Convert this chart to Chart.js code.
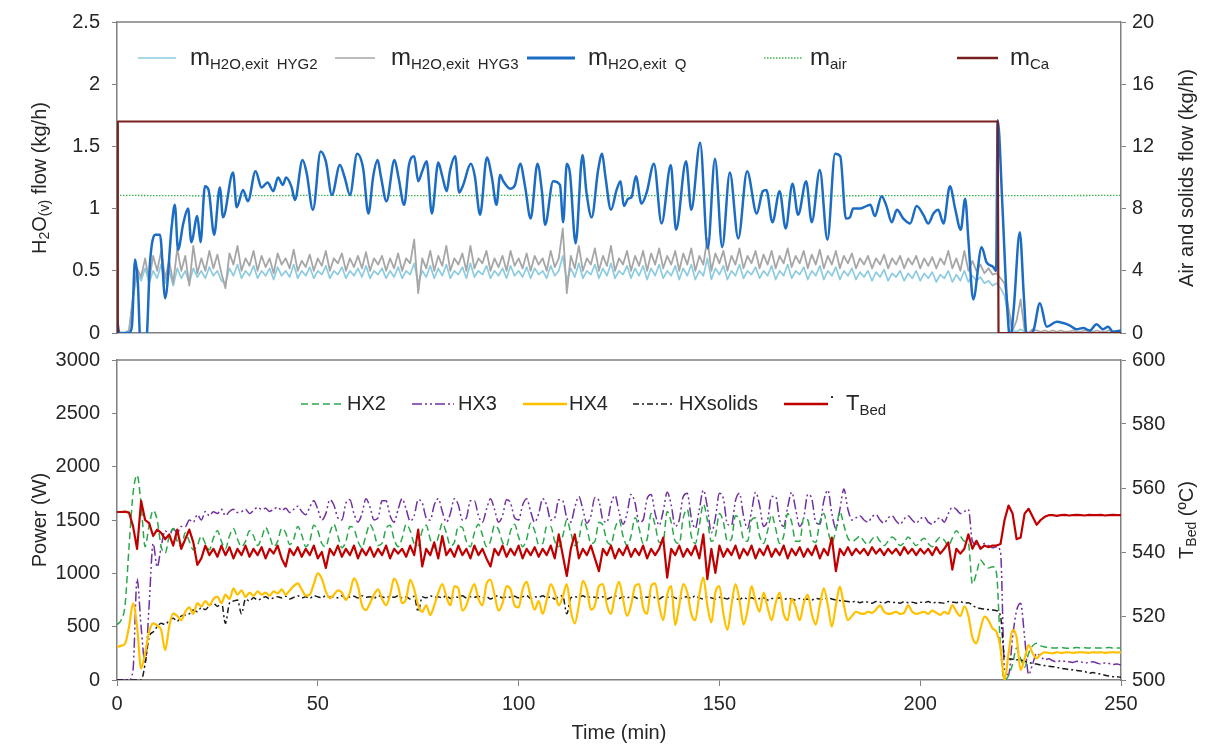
<!DOCTYPE html>
<html><head><meta charset="utf-8">
<script src="https://cdn.jsdelivr.net/npm/chart.js@4.4.1/dist/chart.umd.min.js"></script>
<style>
html,body{margin:0;padding:0;background:#fff;}
#wrap{position:relative;width:1206px;height:752px;overflow:hidden;background:#fff;}
#wrap canvas{position:absolute;left:0;}
#topCv{top:0;}
#botCv{top:345px;}
</style></head><body>
<div id="wrap">
<canvas id="topCv" width="1206" height="345"></canvas>
<canvas id="botCv" width="1206" height="407"></canvas>
</div>
<script>
// ---------------- DATA ----------------
const minutes = Array.from({length: 251}, (_, i) => i); // time grid (min)
const xTicks = [0, 50, 100, 150, 200, 250];

// H2O exit flows (kg/h), one value per minute
const waterHYG2 = [
0,0,0,0.02,0.28,0.48,0.42,0.52,0.4,0.5,
0.44,0.55,0.4,0.5,0.38,0.52,0.44,0.5,0.4,0.52,
0.45,0.5,0.44,0.53,0.46,0.5,0.42,0.4,0.52,0.46,
0.55,0.44,0.5,0.46,0.54,0.44,0.5,0.46,0.52,0.43,
0.53,0.46,0.5,0.45,0.55,0.44,0.5,0.46,0.53,0.44,
0.5,0.47,0.54,0.44,0.5,0.47,0.53,0.44,0.5,0.46,
0.52,0.45,0.54,0.44,0.5,0.47,0.52,0.44,0.5,0.45,
0.53,0.44,0.5,0.47,0.56,0.4,0.5,0.45,0.54,0.44,
0.52,0.46,0.55,0.44,0.5,0.47,0.53,0.44,0.56,0.45,
0.5,0.47,0.54,0.44,0.5,0.46,0.52,0.44,0.54,0.46,
0.5,0.45,0.53,0.44,0.52,0.47,0.5,0.44,0.54,0.46,
0.5,0.62,0.42,0.52,0.45,0.56,0.44,0.5,0.47,0.55,
0.44,0.52,0.46,0.56,0.44,0.5,0.47,0.54,0.44,0.52,
0.46,0.54,0.43,0.52,0.46,0.55,0.44,0.5,0.46,0.54,
0.43,0.52,0.46,0.55,0.43,0.5,0.46,0.6,0.43,0.52,
0.47,0.54,0.43,0.5,0.46,0.55,0.44,0.5,0.47,0.53,
0.44,0.5,0.46,0.54,0.43,0.5,0.46,0.55,0.44,0.5,
0.47,0.53,0.43,0.5,0.46,0.54,0.43,0.5,0.46,0.53,
0.43,0.5,0.46,0.52,0.43,0.49,0.45,0.5,0.42,0.49,
0.45,0.51,0.42,0.48,0.45,0.5,0.42,0.48,0.44,0.5,
0.42,0.48,0.44,0.49,0.41,0.47,0.44,0.5,0.41,0.47,
0.42,0.5,0.41,0.46,0.42,0.45,0.4,0.42,0.38,0.4,
0.36,0.3,0.12,0.02,0.01,0.03,0.01,0,0.01,0,
0,0,0,0,0,0,0,0,0,0,
0,0,0,0,0,0,0,0,0,0,
0];
const waterHYG3 = [
0,0,0,0.02,0.3,0.52,0.45,0.6,0.42,0.62,
0.5,0.66,0.44,0.58,0.4,0.68,0.5,0.62,0.38,0.7,
0.48,0.6,0.5,0.66,0.52,0.63,0.48,0.36,0.64,0.55,
0.7,0.5,0.6,0.54,0.66,0.5,0.62,0.53,0.6,0.48,
0.64,0.55,0.6,0.52,0.67,0.5,0.58,0.53,0.63,0.5,
0.6,0.54,0.66,0.5,0.6,0.56,0.64,0.5,0.6,0.53,
0.62,0.52,0.65,0.5,0.6,0.55,0.62,0.5,0.6,0.52,
0.64,0.5,0.6,0.56,0.75,0.32,0.6,0.52,0.66,0.5,
0.62,0.54,0.7,0.5,0.6,0.55,0.64,0.5,0.7,0.52,
0.6,0.56,0.66,0.5,0.6,0.53,0.62,0.5,0.66,0.54,
0.6,0.52,0.64,0.5,0.62,0.55,0.6,0.5,0.66,0.53,
0.6,0.84,0.32,0.62,0.52,0.7,0.5,0.6,0.55,0.68,
0.5,0.62,0.54,0.7,0.5,0.6,0.55,0.66,0.5,0.62,
0.54,0.66,0.5,0.64,0.55,0.68,0.52,0.62,0.55,0.66,
0.5,0.64,0.55,0.68,0.5,0.62,0.55,0.76,0.5,0.64,
0.56,0.66,0.5,0.62,0.55,0.68,0.52,0.62,0.56,0.66,
0.52,0.63,0.55,0.66,0.52,0.62,0.56,0.68,0.53,0.62,
0.56,0.66,0.52,0.63,0.55,0.67,0.52,0.62,0.55,0.66,
0.52,0.62,0.56,0.64,0.52,0.6,0.55,0.62,0.52,0.6,
0.55,0.63,0.52,0.6,0.55,0.62,0.52,0.6,0.55,0.62,
0.52,0.6,0.54,0.61,0.52,0.6,0.55,0.66,0.52,0.6,
0.5,0.66,0.5,0.58,0.5,0.55,0.48,0.52,0.47,0.48,
0.44,0.4,0.2,0.02,0.1,0.27,0.02,0,0.03,0.02,
0.01,0.02,0.01,0.02,0.01,0.02,0.01,0.01,0.02,0.01,
0.01,0.02,0.01,0.01,0.02,0.01,0.01,0.02,0.01,0.01,
0.01];
// [minute, kg/h]
const waterQ = [
[0,0.12],[0.6,0],[3,0],[3.7,0.05],[4.5,0.59],[5.2,0.4],[5.8,-0.05],[7.3,-0.05],[8.2,0.56],[9.5,0.79],
[10.7,0.79],[12,0.28],[13.6,0.85],[14.4,1.03],[15.2,0.67],[16.5,0.88],[17.7,1.0],[18.5,0.73],[20,0.94],[20.8,0.73],
[21.9,1.18],[22.8,1.15],[24.2,0.79],[25.6,1.17],[26.4,0.93],[28.9,1.29],[29.8,1.01],[31.4,1.15],[32.6,1.06],[34.5,1.3],
[36,1.17],[37.5,1.21],[38.9,1.14],[40.1,1.25],[41.3,1.19],[42.1,1.25],[43.5,1.17],[44.3,1.07],[46.2,1.39],[47.2,1.29],
[48.8,0.99],[50.7,1.46],[52,1.38],[53.5,1.11],[55.5,1.35],[56.7,1.25],[58,1.11],[59.8,1.44],[61.3,1.32],[62.6,0.96],
[63.8,1.26],[64.9,1.39],[65.7,1.26],[67.1,1.06],[69.1,1.39],[70.1,1.25],[71.5,1.03],[72.7,1.35],[74,1.42],[75,1.22],
[76,1.3],[77.1,1.38],[78.4,0.96],[80,1.37],[81,1.26],[82.1,1.14],[82.9,1.3],[84.2,1.42],[85.2,1.13],[86.2,1.19],
[88.1,1.36],[89.1,1.26],[90.4,0.95],[92.1,1.41],[93.3,1.26],[94.5,1.03],[95.4,1.27],[96.2,1.22],[97.9,1.16],[99.1,1.19],
[100.4,1.36],[101.6,1.18],[103,0.92],[104.7,1.36],[105.8,1.14],[106.6,0.87],[108.6,1.22],[110.3,1.19],[111.1,0.89],[112,1.36],
[112.8,1.28],[114.2,0.72],[115.9,1.43],[116.9,1.13],[118.2,0.93],[119.8,1.31],[120.8,1.44],[121.6,1.26],[123,0.99],[124.4,1.15],
[125.4,1.22],[126.2,1.02],[127.3,1.08],[128.1,1.09],[129.2,1.26],[130.6,1.04],[131.9,1.13],[133.7,1.36],[135.6,0.88],[137.9,1.35],
[139.2,0.83],[141.7,1.38],[143,0.99],[145.2,1.53],[147.1,0.68],[148.9,1.4],[150.7,0.69],[152.6,1.29],[154.7,0.76],[156.9,1.3],
[159.3,0.96],[160.8,1.14],[161.7,1.15],[163.2,0.89],[165,1.14],[166.5,0.84],[168.2,1.2],[169.6,0.95],[171.6,1.22],[173,0.89],
[175,1.31],[176.9,0.75],[178.8,1.44],[180.1,1.42],[181.5,0.92],[182.5,0.93],[183.3,1.0],[185,1.0],[186.6,1.02],[187.6,1.03],
[188.7,0.94],[190.4,1.1],[191.6,1.02],[192.9,0.89],[194.2,0.99],[195.8,0.92],[197.5,0.88],[199.1,1.02],[200.8,0.95],[202,0.88],
[203.3,0.96],[204.5,0.99],[205.8,0.88],[207.4,1.18],[208.7,1.0],[210.1,0.83],[211.2,1.08],[212,0.75],[213.2,0.27],[215.3,0.69],
[216.5,0.57],[218.2,0.53],[218.9,0.5],[219.3,1.71],[220.5,1.0],[221.5,0.3],[222.4,-0.05],[223.3,0.2],[224.8,0.81],[225.8,0.3],
[226.5,-0.02],[228.2,0.02],[229.8,0.24],[231.5,0.05],[234,0.09],[235.6,0.08],[237.3,0.06],[238.9,0.03],[240.6,0.04],[242.2,0.02],
[243.9,0.07],[245.5,0.03],[246.8,0.05],[248,0.01],[250,0.02]];
// Air and solids (kg/h) [minute, kg/h]
const airFlow = [[0,8.85],[25,8.82],[50,8.85],[75,8.83],[100,8.85],[125,8.83],[150,8.85],[175,8.82],[200,8.84],[225,8.83],[250,8.85]];
const caFlow = [[0,0],[0.2,13.6],[219.3,13.6],[219.5,0],[250,0]];

// Heat exchanger power (W), one value per minute
const powerHX2 = [
520,560,700,1250,1750,1920,1650,1250,1450,1590,
1500,1250,1190,1350,1420,1300,1250,1380,1300,1220,
1260,1350,1280,1220,1330,1400,1300,1230,1350,1420,
1320,1250,1300,1400,1350,1260,1330,1430,1350,1250,
1300,1420,1380,1270,1320,1440,1360,1250,1300,1450,
1400,1280,1250,1380,1460,1350,1240,1300,1440,1420,
1300,1240,1360,1460,1380,1260,1280,1420,1450,1320,
1250,1330,1460,1400,1280,1260,1400,1450,1320,1240,
1340,1470,1380,1260,1290,1440,1430,1300,1250,1380,
1460,1360,1250,1300,1450,1410,1290,1260,1400,1460,
1340,1250,1320,1470,1400,1270,1280,1440,1440,1300,
1250,1350,1500,1380,1260,1320,1500,1420,1280,1300,
1480,1450,1300,1270,1420,1500,1350,1260,1350,1520,
1420,1280,1320,1560,1450,1290,1300,1580,1480,1300,
1280,1520,1600,1350,1280,1450,1650,1500,1300,1350,
1560,1480,1300,1320,1540,1500,1320,1300,1500,1520,
1350,1280,1400,1550,1420,1280,1350,1560,1480,1300,
1300,1520,1500,1320,1290,1480,1560,1400,1290,1400,
1580,1450,1330,1300,1320,1350,1300,1270,1320,1350,
1300,1260,1300,1340,1310,1260,1290,1340,1300,1260,
1300,1330,1280,1250,1300,1340,1310,1260,1330,1400,
1350,1300,1280,900,1000,1125,1080,1050,1062,1000,
300,0,40,150,300,200,120,250,320,344,
320,310,305,300,300,305,300,298,300,305,
300,302,300,305,300,300,302,305,300,300,
300];
const powerHX3 = [
0,0,0,0,100,950,500,160,700,1280,
1060,1250,1400,1350,1420,1380,1440,1437,1500,1480,
1550,1500,1580,1540,1578,1560,1600,1540,1580,1600,
1570,1578,1600,1560,1590,1620,1600,1610,1580,1600,
1620,1590,1610,1570,1600,1630,1580,1550,1620,1680,
1600,1500,1560,1690,1640,1520,1500,1660,1690,1560,
1480,1560,1700,1620,1500,1520,1680,1680,1540,1480,
1600,1700,1600,1490,1540,1690,1660,1520,1500,1640,
1700,1580,1480,1560,1700,1640,1500,1520,1680,1680,
1540,1480,1600,1700,1600,1480,1540,1690,1660,1520,
1500,1640,1700,1580,1480,1560,1700,1640,1500,1520,
1690,1680,1520,1480,1620,1720,1600,1470,1540,1710,
1680,1500,1480,1650,1730,1580,1460,1560,1740,1660,
1480,1500,1700,1740,1560,1450,1580,1760,1640,1440,
1500,1720,1750,1520,1420,1600,1780,1620,1380,1520,
1750,1700,1460,1450,1680,1750,1540,1420,1580,1760,
1640,1440,1500,1720,1720,1500,1440,1620,1760,1600,
1440,1520,1740,1700,1480,1460,1680,1780,1560,1420,
1600,1790,1600,1500,1520,1540,1500,1480,1530,1550,
1500,1470,1520,1540,1490,1460,1510,1540,1500,1470,
1510,1530,1480,1460,1500,1520,1480,1560,1620,1600,
1560,1580,1600,1300,1270,1250,1280,1260,1240,1250,
1200,100,50,400,650,720,400,50,150,250,
220,190,200,180,170,180,175,170,165,175,
170,160,165,170,160,150,160,155,145,150,
140];
const powerHX4 = [
310,320,340,500,719,500,109,250,450,531,
510,470,281,500,625,600,560,640,680,620,
720,690,740,700,760,781,720,800,760,859,
800,840,780,820,790,830,800,820,790,830,
812,850,800,840,880,906,850,790,800,900,
1000,950,830,766,800,840,820,750,820,953,
880,700,656,720,800,850,760,700,800,950,
880,720,760,940,850,700,640,700,609,700,
820,900,780,700,880,860,650,700,820,900,
760,700,900,940,800,650,720,880,850,700,
680,850,920,780,660,740,620,750,900,820,
700,780,900,650,531,700,930,850,660,700,
880,900,700,620,800,920,760,600,700,880,
900,680,620,880,906,700,560,800,880,515,
700,900,820,620,560,800,960,700,540,820,
880,620,469,700,900,750,520,650,880,740,
640,820,680,560,720,820,620,560,760,680,
560,720,800,620,520,700,860,700,500,700,
875,700,560,600,640,625,620,640,630,660,
700,640,620,625,640,620,630,700,640,620,
630,640,620,650,630,610,640,620,703,640,
600,690,600,400,344,480,594,560,484,450,
300,0,250,469,400,94,200,328,250,203,
240,260,255,250,260,255,258,260,255,258,
260,258,255,260,258,260,255,258,260,258,
260];
const powerHXsolids = [
0,0,0,0,0,0,0,150,406,450,
500,531,520,560,580,550,600,609,620,656,
640,680,660,700,719,690,730,531,720,740,
750,620,760,740,770,750,765,780,760,770,
781,770,785,760,775,790,770,780,765,790,
780,770,790,775,780,770,790,760,780,785,
770,790,775,780,765,790,780,770,785,775,
790,770,780,760,785,640,780,770,790,775,
780,770,790,765,780,775,790,770,780,775,
785,770,780,760,780,790,770,780,775,785,
770,780,790,765,780,775,790,770,780,760,
780,790,620,770,780,775,790,770,780,775,
770,780,760,775,790,765,780,770,785,775,
760,780,775,790,770,760,780,775,785,770,
760,775,780,765,790,770,760,780,770,760,
775,770,760,780,765,755,775,760,770,755,
765,770,750,765,760,770,755,765,760,750,
765,755,760,750,765,760,755,770,760,750,
745,740,735,730,740,725,735,730,720,735,
730,720,735,725,730,720,735,725,730,720,
730,725,735,720,730,725,720,735,730,725,
735,720,725,700,680,670,665,660,656,650,
600,219,200,195,190,188,175,165,156,150,
140,135,130,125,120,109,105,100,95,90,
85,80,62,70,60,55,45,38,31,30,
25];
// Bed temperature (degC), one value per minute
const tempBed = [
552.5,552.5,552.6,552.3,548,541,556,550,549,545,
547,546,544,545.5,542,547,541,544,547,543,
536,538,542,539,541,538.5,542,539,541.5,538,
541,539,542,538.5,541,539,541.5,538,541,539.5,
542,538,535.5,541,539,541.5,538.5,541,539,542,
538,540,535,541,539,542,538.5,541,539,542,
538,541,539,541.5,538.5,541,539,542,538,541,
539.5,541,538.5,542,539,547,535.5,541,539,543,
538,545,539,541,538.5,542,539,541,538,542,
539,541,538,535.5,541,539,542,538.5,541,539,
542,538,541,539,541.5,538.5,541,539,542,538,
545.5,539,532.5,541,545.5,538,541,539,542,538,
534,541,539,542,538,541,539,542,538.5,541,
539,542,538,541,539,541,544.5,532,541,539,
542,538.5,541,539,542,538,545.5,531.5,541,533.5,
542,538.5,541,539,542,538,541,539,542,538,
541,539,542,538.5,541,539,542,538,541,539,
541.5,538.5,541,539,542,538,541,539,544.5,534,
541,539,541.5,539,541,539.5,541,539,541.5,539.5,
541,539,541,539.5,541,539,541.5,539.5,541,539,
541,539.5,541,539,541.5,539.5,541,543,534.5,541,
539.5,541,545.5,541,543.5,541,542,541.5,542,542,
542.5,550,554.5,552,544,544.5,552,553.5,551,548.5,
550,551,551.5,551.5,551.3,551.5,551.6,551.4,551.5,551.6,
551.5,551.4,551.6,551.5,551.5,551.6,551.4,551.5,551.6,551.5,
551.5];

// ---------------- RENDER ----------------
const FONT = '"Liberation Sans", Arial, Helvetica, sans-serif';
const AX = '#808080';
const TXT = '#262626';
const perMinute = vals => vals.map((v, i) => ({x: minutes[i], y: v}));
const fromPairs = arr => arr.map(([x, y]) => ({x, y}));

function noOverflow(s) { s.paddingTop = 0; s.paddingBottom = 0; s.paddingLeft = 0; s.paddingRight = 0; }

function yAxis(pos, min, max, step, width, pad) {
  return {
    type: 'linear', position: pos, min, max,
    ticks: {stepSize: step, color: TXT, font: {family: FONT, size: 20}, padding: pad, callback: v => String(v)},
    grid: {display: true, drawOnChartArea: false, drawTicks: true, tickLength: 5, color: AX, lineWidth: 1},
    border: {display: true, color: AX, width: 1.5},
    afterFit(s) { s.width = width; noOverflow(s); }
  };
}

function drawRich(ctx, parts, x, y) {
  let cx = x;
  for (const [t, size, dy] of parts) {
    ctx.font = size + 'px ' + FONT;
    ctx.fillText(t, cx, y + dy);
    cx += ctx.measureText(t).width;
  }
  return cx;
}
function richWidth(ctx, parts) {
  let w = 0;
  for (const [t, size] of parts) { ctx.font = size + 'px ' + FONT; w += ctx.measureText(t).width; }
  return w;
}
function drawRotated(ctx, parts, cx, cy) {
  ctx.save();
  ctx.translate(cx, cy);
  ctx.rotate(-Math.PI / 2);
  ctx.textBaseline = 'middle';
  ctx.fillStyle = TXT;
  const w = richWidth(ctx, parts);
  drawRich(ctx, parts, -w / 2, 0);
  ctx.restore();
}
function legendLine(ctx, x1, x2, y, color, width, dash) {
  ctx.save();
  ctx.strokeStyle = color; ctx.lineWidth = width; ctx.setLineDash(dash || []);
  ctx.beginPath(); ctx.moveTo(x1, y); ctx.lineTo(x2, y); ctx.stroke();
  ctx.restore();
}
function topBorder(chart) {
  const ctx = chart.ctx, a = chart.chartArea;
  ctx.save(); ctx.strokeStyle = AX; ctx.lineWidth = 1.5;
  ctx.beginPath(); ctx.moveTo(a.left, a.top); ctx.lineTo(a.right, a.top); ctx.stroke();
  ctx.restore();
}

const C = {
  hyg2: '#8ccbe0', hyg3: '#a6a6a6', q: '#1c6cc4', air: '#3cb44b', ca: '#7a1f1f',
  hx2: '#2aa84a', hx3: '#7030a0', hx4: '#ffc000', hxs: '#1a1a1a', bed: '#c00000'
};
const D = {
  hx2: [7, 4], hx3: [10, 3, 2, 3, 2, 3], hxs: [6, 3, 2, 3], air: [1.5, 1.5]
};

const topDecor = {
  id: 'topDecor',
  afterDraw(chart) {
    const ctx = chart.ctx;
    topBorder(chart);
    drawRotated(ctx, [['H', 20, 0], ['2', 14, 5], ['O', 20, 0], ['(v)', 14, 5], [' flow (kg/h)', 20, 0]], 40, 178);
    drawRotated(ctx, [['Air and solids flow (kg/h)', 20, 0]], 1187, 178);
    const ly = 58;
    ctx.save(); ctx.fillStyle = TXT; ctx.textBaseline = 'middle';
    legendLine(ctx, 138, 176, ly, C.hyg2, 1.5);
    drawRich(ctx, [['m', 24, 0], ['H2O,exit  HYG2', 15, 7]], 190, ly);
    legendLine(ctx, 335, 375, ly, C.hyg3, 1.5);
    drawRich(ctx, [['m', 24, 0], ['H2O,exit  HYG3', 15, 7]], 391, ly);
    legendLine(ctx, 527, 575, ly, C.q, 3);
    drawRich(ctx, [['m', 24, 0], ['H2O,exit  Q', 15, 7]], 588, ly);
    legendLine(ctx, 764, 803, ly, C.air, 1.3, D.air);
    drawRich(ctx, [['m', 24, 0], ['air', 15, 7]], 810, ly);
    legendLine(ctx, 957, 998, ly, C.ca, 2.5);
    drawRich(ctx, [['m', 24, 0], ['Ca', 15, 7]], 1010, ly);
    ctx.restore();
  }
};

const botDecor = {
  id: 'botDecor',
  afterDraw(chart) {
    const ctx = chart.ctx;
    topBorder(chart);
    drawRotated(ctx, [['Power (W)', 20, 0]], 40, 175);
    drawRotated(ctx, [['T', 20, 0], ['Bed', 14, 5], [' (ºC)', 20, 0]], 1187, 175);
    ctx.save(); ctx.fillStyle = TXT; ctx.textBaseline = 'middle';
    ctx.font = '20px ' + FONT; ctx.textAlign = 'center';
    ctx.fillText('Time (min)', 619, 388);
    ctx.textAlign = 'left';
    const ly = 59;
    legendLine(ctx, 301, 341, ly, C.hx2, 1.5, D.hx2);
    drawRich(ctx, [['HX2', 20, 0]], 347, ly);
    legendLine(ctx, 412, 454, ly, C.hx3, 1.5, D.hx3);
    drawRich(ctx, [['HX3', 20, 0]], 458, ly);
    legendLine(ctx, 523, 567, ly, C.hx4, 2.5);
    drawRich(ctx, [['HX4', 20, 0]], 569, ly);
    legendLine(ctx, 633, 675, ly, C.hxs, 1.5, D.hxs);
    drawRich(ctx, [['HXsolids', 20, 0]], 679, ly);
    legendLine(ctx, 784, 828, ly, C.bed, 2.5);
    ctx.fillStyle = '#333'; ctx.fillRect(831, ly - 8, 2, 2);
    ctx.fillStyle = TXT;
    drawRich(ctx, [['T', 22, 0], ['Bed', 15, 7]], 846, ly);
    ctx.restore();
  }
};

function line(label, data, color, width, dash, axis, order, smooth) {
  return {label, data, borderColor: color, backgroundColor: color, borderWidth: width,
    borderDash: dash || [], yAxisID: axis, order, pointRadius: 0, fill: false,
    tension: smooth ? 0.4 : 0, cubicInterpolationMode: smooth ? 'monotone' : 'default',
    borderJoinStyle: 'round'};
}

const baseOpts = {
  responsive: false, animation: false, devicePixelRatio: 1,
  plugins: {legend: {display: false}, tooltip: {enabled: false}},
  events: []
};

new Chart(document.getElementById('topCv'), {
  type: 'line',
  data: {datasets: [
    line('m_Ca', fromPairs(caFlow), C.ca, 2.2, null, 'yR', 1, false),
    line('m_H2O,exit Q', fromPairs(waterQ), C.q, 2.5, null, 'yL', 2, true),
    line('m_air', fromPairs(airFlow), C.air, 1.3, D.air, 'yR', 3, false),
    line('m_H2O,exit HYG3', perMinute(waterHYG3), C.hyg3, 1.8, null, 'yL', 4, false),
    line('m_H2O,exit HYG2', perMinute(waterHYG2), C.hyg2, 1.7, null, 'yL', 5, false)
  ]},
  options: Object.assign({}, baseOpts, {
    layout: {padding: {top: 22, left: 0, right: 0, bottom: 0}},
    scales: {
      x: {type: 'linear', min: 0, max: 250, ticks: {display: false}, grid: {display: false},
          border: {display: true, color: AX, width: 1.5}, afterFit(s) { s.height = 12; noOverflow(s); }},
      yL: yAxis('left', 0, 2.5, 0.5, 117, 12),
      yR: yAxis('right', 0, 20, 4, 85, 6)
    }
  }),
  plugins: [topDecor]
});

new Chart(document.getElementById('botCv'), {
  type: 'line',
  data: {datasets: [
    line('T_Bed', perMinute(tempBed), C.bed, 2.2, null, 'yR', 1, false),
    line('HX4', perMinute(powerHX4), C.hx4, 2.2, null, 'yL', 2, true),
    line('HXsolids', perMinute(powerHXsolids), C.hxs, 1.5, D.hxs, 'yL', 3, true),
    line('HX2', perMinute(powerHX2), C.hx2, 1.5, D.hx2, 'yL', 4, true),
    line('HX3', perMinute(powerHX3), C.hx3, 1.5, D.hx3, 'yL', 5, true)
  ]},
  options: Object.assign({}, baseOpts, {
    layout: {padding: {top: 15, left: 0, right: 0, bottom: 0}},
    scales: {
      x: {type: 'linear', min: 0, max: 250,
          afterBuildTicks(s) { s.ticks = xTicks.map(v => ({value: v})); },
          ticks: {color: TXT, font: {family: FONT, size: 20}, padding: 6, callback: v => String(v), maxRotation: 0},
          grid: {display: true, drawOnChartArea: false, drawTicks: true, tickLength: 6, color: AX},
          border: {display: true, color: AX, width: 1.5}, afterFit(s) { s.height = 72; noOverflow(s); }},
      yL: yAxis('left', 0, 3000, 500, 117, 12),
      yR: yAxis('right', 500, 600, 20, 85, 6)
    }
  }),
  plugins: [botDecor]
});
</script>
</body></html>
